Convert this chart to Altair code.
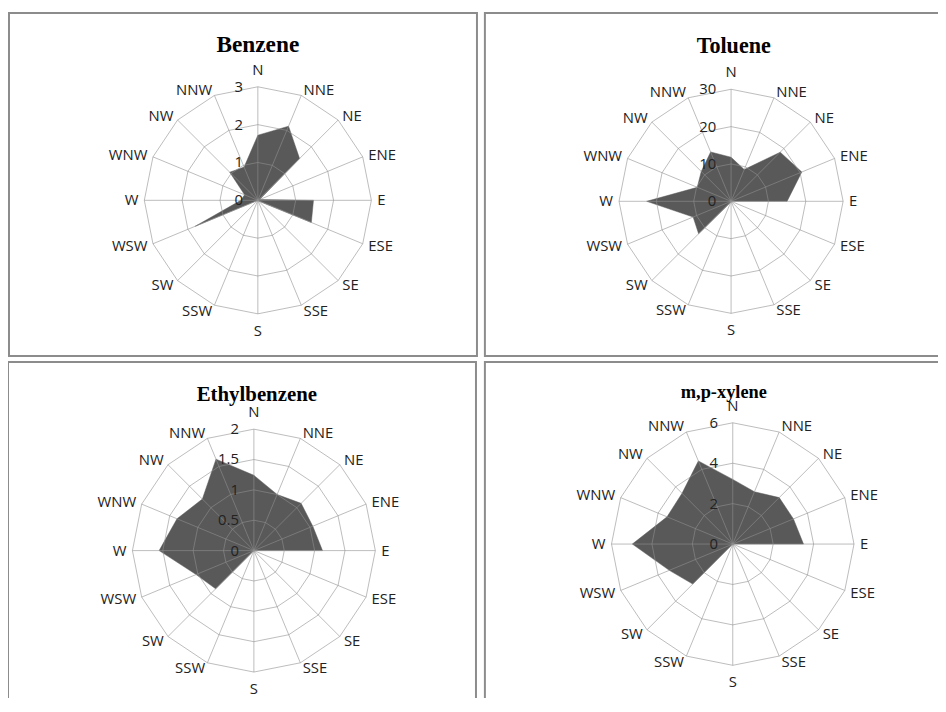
import altair as alt
import pandas as pd

# ---------------- data ----------------
DIRECTIONS = ["N", "NNE", "NE", "ENE", "E", "ESE", "SE", "SSE",
              "S", "SSW", "SW", "WSW", "W", "WNW", "NW", "NNW"]
PANELS = ["Benzene", "Toluene", "Ethylbenzene", "m,p-xylene"]

BENZENE = [1.72, 2.12, 1.56, 0.05, 1.47, 1.53, 0.03, 0, 0, 0, 0, 1.79, 0.45, 0.38, 1.05, 0.95]
TOLUENE = [11.8, 9.2, 18.6, 20.5, 15.0, 0, 0, 0, 0, 0.3, 12.3, 11.0, 22.6, 9.8, 11.3, 14.3]
ETHYLBENZENE = [1.24, 1.0, 1.1, 1.05, 1.13, 0, 0, 0, 0, 0, 0.89, 1.03, 1.56, 1.37, 1.2, 1.63]
XYLENE = [3.2, 2.8, 3.25, 3.25, 3.5, 0, 0, 0, 0, 0, 2.8, 3.4, 4.97, 3.52, 3.55, 4.45]

SERIES = {"Benzene": BENZENE, "Toluene": TOLUENE,
          "Ethylbenzene": ETHYLBENZENE, "m,p-xylene": XYLENE}

TICKS = {"Benzene": [0, 1, 2, 3],
         "Toluene": [0, 10, 20, 30],
         "Ethylbenzene": [0, 0.5, 1, 1.5, 2],
         "m,p-xylene": [0, 2, 4, 6]}
TICK_LABELS = {"Benzene": ["0", "1", "2", "3"],
               "Toluene": ["0", "10", "20", "30"],
               "Ethylbenzene": ["0", "0.5", "1", "1.5", "2"],
               "m,p-xylene": ["0", "2", "4", "6"]}

# ---------------- layout (pixels inside the chart) ----------------
W, H = 938, 690
LAYOUT = {
    "Benzene":      dict(cx=252.0, cy=191.0, R=114.5, bx=1, by=2, bx2=473, by2=348, tx=252, ty=41, ts=23.5),
    "Toluene":      dict(cx=729.3, cy=192.0, R=113.0, bx=481, by=2, bx2=965, by2=348, tx=732, ty=42, ts=22.3),
    "Ethylbenzene": dict(cx=248.0, cy=544.3, R=122.5, bx=0, by=354, bx2=472, by2=730, tx=251, ty=393.7, ts=21),
    "m,p-xylene":   dict(cx=731.0, cy=537.7, R=122.3, bx=481, by=354, bx2=965, by2=730, tx=722, ty=390.3, ts=18.5),
}

FILL = "#595959"
GRID = "#8f8f8f"
TEXT = "#222222"
BOX = "#8c8c8c"
FONT = "Open Sans"

def geo(p):
    L = LAYOUT[p]
    return dict(panel=p, cx=L["cx"], cy=L["cy"], R=L["R"], vmax=TICKS[p][-1])

poly_rows, ring_rows, spoke_rows, lab_rows, tick_rows, title_rows, box_rows = [], [], [], [], [], [], []
for p in PANELS:
    g = geo(p)
    L = LAYOUT[p]
    for i, v in enumerate(SERIES[p]):
        poly_rows.append(dict(g, idx=i, value=v))
    for lv in TICKS[p][1:]:
        for i in range(len(DIRECTIONS)):
            ring_rows.append(dict(g, idx=i, value=lv, key=f"{p}-{lv}"))
    for i, d in enumerate(DIRECTIONS):
        spoke_rows.append(dict(g, idx=i))
        lab_rows.append(dict(g, idx=i, label=d))
    for v, t in zip(TICKS[p], TICK_LABELS[p]):
        tick_rows.append(dict(g, value=v, text=t))
    title_rows.append(dict(panel=p, tx=L["tx"], ty=L["ty"], ts=L["ts"]))
    box_rows.append(dict(panel=p, bx=L["bx"], by=L["by"], bx2=L["bx2"], by2=L["by2"]))

poly_df = pd.DataFrame(poly_rows)
ring_df = pd.DataFrame(ring_rows)
spoke_df = pd.DataFrame(spoke_rows)
lab_df = pd.DataFrame(lab_rows)
tick_df = pd.DataFrame(tick_rows)
title_df = pd.DataFrame(title_rows)
box_df = pd.DataFrame(box_rows)

XS = alt.Scale(domain=[0, W], nice=False, zero=False)
YS = alt.Scale(domain=[0, H], nice=False, zero=False, reverse=True)

def X(f):
    return alt.X(f, type="quantitative", scale=XS, axis=None)

def Y(f):
    return alt.Y(f, type="quantitative", scale=YS, axis=None)

ANG = "datum.idx * PI / 8"
PX = f"datum.cx + datum.R * datum.value / datum.vmax * sin({ANG})"
PY = f"datum.cy - datum.R * datum.value / datum.vmax * cos({ANG})"

boxes = alt.Chart(box_df).mark_rect(fillOpacity=0, stroke=BOX, strokeWidth=2).encode(
    x=X("bx"), x2="bx2", y=Y("by"), y2="by2")

polygon = alt.Chart(poly_df).transform_calculate(px=PX, py=PY).mark_line(
    interpolate="linear-closed", fill=FILL, stroke=FILL, strokeWidth=0.5
).encode(x=X("px"), y=Y("py"), detail="panel:N", order=alt.Order("idx:Q"))

rings = alt.Chart(ring_df).transform_calculate(px=PX, py=PY).mark_line(
    interpolate="linear-closed", color=GRID, strokeWidth=1, opacity=0.6
).encode(x=X("px"), y=Y("py"), detail="key:N", order=alt.Order("idx:Q"))

spokes = alt.Chart(spoke_df).transform_calculate(
    x0="datum.cx", y0="datum.cy",
    x1=f"datum.cx + datum.R * sin({ANG})",
    y1=f"datum.cy - datum.R * cos({ANG})",
).mark_rule(color=GRID, strokeWidth=1, opacity=0.6).encode(
    x=X("x0"), y=Y("y0"), x2="x1", y2="y1")

lab_base = alt.Chart(lab_df).transform_calculate(
    side="datum.idx == 0 ? 'N' : (datum.idx == 8 ? 'S' : (datum.idx < 8 ? 'E' : 'W'))",
    rr="datum.R + ((datum.idx == 0 || datum.idx == 8) ? 17 : 6)",
).transform_calculate(
    lx=f"datum.cx + datum.rr * sin({ANG})",
    ly=f"datum.cy - datum.rr * cos({ANG})",
)

def dir_layer(sides, align):
    return lab_base.transform_filter(
        alt.FieldOneOfPredicate(field="side", oneOf=sides)
    ).mark_text(align=align, baseline="middle", font=FONT, fontSize=15, color=TEXT).encode(
        x=X("lx"), y=Y("ly"), text="label:N")

lab_e = dir_layer(["E"], "left")
lab_w = dir_layer(["W"], "right")
lab_ns = dir_layer(["N", "S"], "center")

ticks = alt.Chart(tick_df).transform_calculate(
    tx="datum.cx - 15",
    ty="datum.cy - datum.R * datum.value / datum.vmax",
).mark_text(align="right", baseline="middle", font=FONT, fontSize=15, color=TEXT).encode(
    x=X("tx"), y=Y("ty"), text="text:N")

titles = alt.Chart(title_df).mark_text(
    align="center", baseline="alphabetic", font="Liberation Serif", fontWeight="bold", color="#000000"
).encode(x=X("tx"), y=Y("ty"), text="panel:N", size=alt.Size("ts:Q", scale=None, legend=None))

chart = alt.layer(boxes, polygon, rings, spokes, ticks, lab_e, lab_w, lab_ns, titles).properties(
    width=W, height=H,
    autosize=alt.AutoSizeParams(type="none"),
    padding=0,
    background="white",
).configure_view(stroke=None)

chart.save("out.html", embed_options={"renderer": "svg", "actions": False})
